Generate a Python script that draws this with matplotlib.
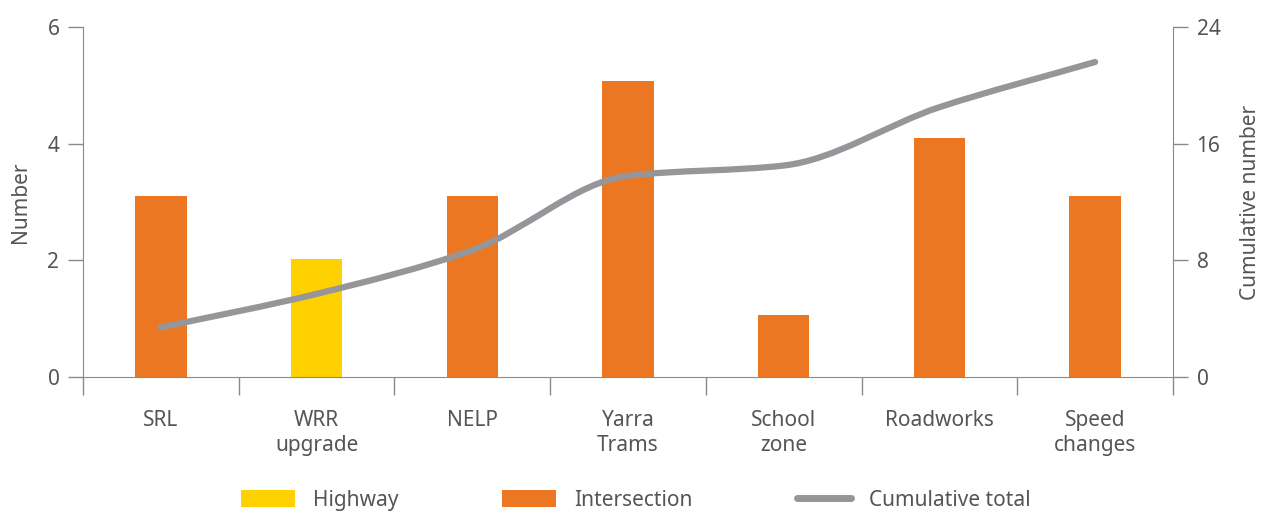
import numpy as np
import matplotlib.pyplot as plt
from matplotlib.path import Path
from matplotlib.patches import PathPatch, Patch
from matplotlib.lines import Line2D

plt.rcParams['font.family'] = ['Noto Sans', 'DejaVu Sans']

# Incidents by project type
categories = ['SRL', 'WRR\nupgrade', 'NELP', 'Yarra\nTrams', 'School\nzone', 'Roadworks', 'Speed\nchanges']
counts = [3.1, 2.02, 3.1, 5.07, 1.06, 4.1, 3.1]
kinds = ['Intersection', 'Highway', 'Intersection', 'Intersection', 'Intersection', 'Intersection', 'Intersection']
cumulative = [3.4, 5.7, 8.7, 13.8, 14.5, 18.5, 21.6]

ORANGE = '#EC7723'
YELLOW = '#FFD100'
GREY = '#96969A'
TEXT = '#555555'
AXIS = '#8A8A8A'
colors = {'Highway': YELLOW, 'Intersection': ORANGE}


def monotone_path(xs, ys):
    # cubic bezier through the points with Fritsch-Carlson tangents (no overshoot)
    xs = np.asarray(xs, float)
    ys = np.asarray(ys, float)
    h = np.diff(xs)
    d = np.diff(ys) / h
    m = np.empty_like(ys)
    m[0], m[-1] = d[0], d[-1]
    for i in range(1, len(ys) - 1):
        if d[i - 1] * d[i] <= 0:
            m[i] = 0
        else:
            w1 = 2 * h[i] + h[i - 1]
            w2 = h[i] + 2 * h[i - 1]
            m[i] = (w1 + w2) / (w1 / d[i - 1] + w2 / d[i])
    verts = [(xs[0], ys[0])]
    codes = [Path.MOVETO]
    for i in range(len(xs) - 1):
        verts += [(xs[i] + h[i] / 3, ys[i] + m[i] * h[i] / 3),
                  (xs[i + 1] - h[i] / 3, ys[i + 1] - m[i + 1] * h[i] / 3),
                  (xs[i + 1], ys[i + 1])]
        codes += [Path.CURVE4] * 3
    return Path(verts, codes)


fig = plt.figure(figsize=(12.71, 5.17), dpi=100)
ax = fig.add_axes([0.0653, 0.2708, 0.8576, 0.677])
ax2 = ax.twinx()

x = np.arange(len(categories))
ax.bar(x, counts, width=0.33, color=[colors[k] for k in kinds], zorder=2)

ax.set_xlim(-0.5, len(categories) - 0.5)
ax.set_ylim(0, 6)
ax.set_yticks([0, 2, 4, 6])
ax2.set_ylim(0, 24)
ax2.set_yticks([0, 8, 16, 24])

line = PathPatch(monotone_path(x, cumulative), facecolor='none',
                 edgecolor=GREY, linewidth=4.5, capstyle='round', zorder=3)
ax2.add_patch(line)

# category labels centred, separator ticks between categories
ax.set_xticks(x)
ax.set_xticklabels(categories, fontsize=15, color=TEXT, linespacing=1.25)
ax.tick_params(axis='x', length=0, pad=24)
ax.set_xticks(np.arange(-0.5, len(categories)), minor=True)
ax.tick_params(axis='x', which='minor', length=13, color=AXIS, width=1)

for a in (ax, ax2):
    a.tick_params(axis='y', labelsize=15, labelcolor=TEXT, color=AXIS, length=11, width=1, pad=6)
    for s in a.spines.values():
        s.set_color(AXIS)
    a.spines['top'].set_visible(False)
ax2.spines['bottom'].set_visible(False)
ax.spines['right'].set_visible(False)
ax2.spines['left'].set_visible(False)

ax.set_ylabel('Number', fontsize=15, color=TEXT, labelpad=12)
ax2.set_ylabel('Cumulative number', fontsize=15, color=TEXT, labelpad=14)

handles = [Patch(facecolor=YELLOW, label='Highway'),
           Patch(facecolor=ORANGE, label='Intersection'),
           Line2D([0], [0], color=GREY, linewidth=5, solid_capstyle='round', label='Cumulative total')]
fig.legend(handles=handles, loc='center', bbox_to_anchor=(0.5, 0.032), ncol=3, frameon=False,
           fontsize=15, labelcolor=TEXT, handlelength=2.6, handleheight=0.9,
           columnspacing=5.0, handletextpad=0.85, borderpad=0.1)

fig.savefig('out.png', dpi=100)
